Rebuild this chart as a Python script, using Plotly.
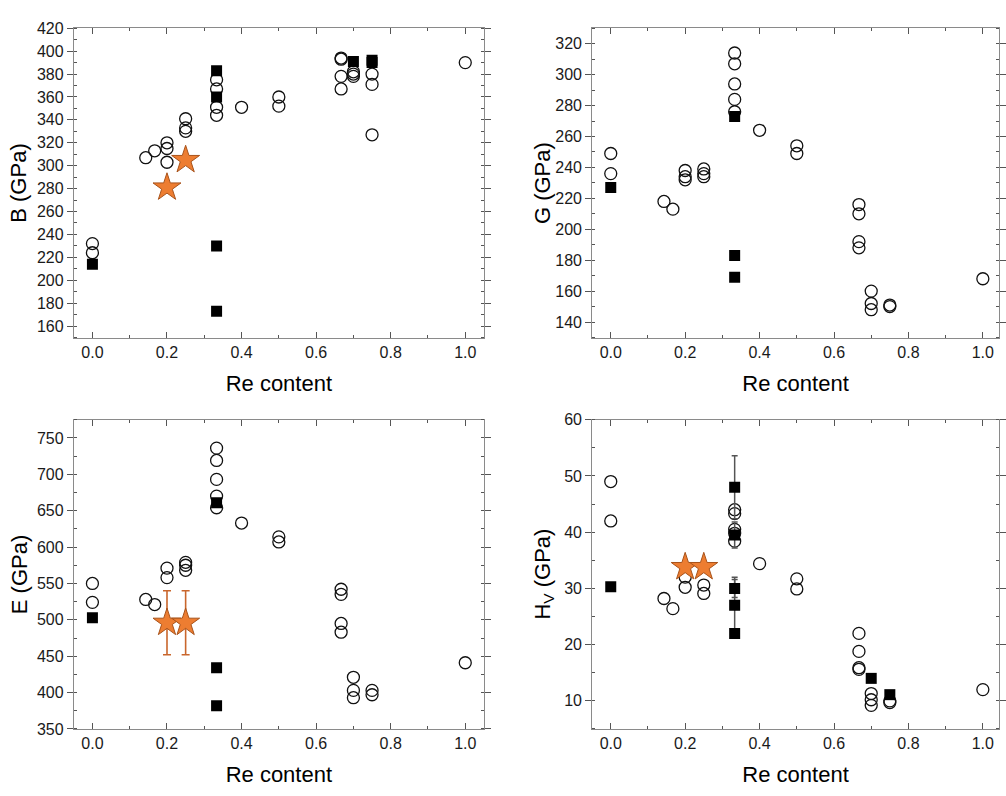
import plotly.graph_objects as go

# ---------------- Bulk modulus B (GPa) ----------------
b_open_re = [0, 0, 0.143, 0.167, 0.2, 0.2, 0.2, 0.25, 0.25, 0.25,
             0.333, 0.333, 0.333, 0.333, 0.4, 0.5, 0.5,
             0.667, 0.667, 0.667, 0.667, 0.7, 0.7, 0.7, 0.75, 0.75, 0.75, 1.0]
b_open_val = [232, 224, 307, 313, 320, 315, 303, 341, 333, 330,
              375, 367, 351, 344, 351, 360, 352,
              394, 393, 378, 367, 382, 380, 378, 380, 371, 327, 390]
b_sq_re = [0, 0.333, 0.333, 0.333, 0.333, 0.7, 0.75, 0.75]
b_sq_val = [214, 383, 360, 230, 173, 391, 392, 390]
b_star_re = [0.2, 0.25]
b_star_val = [281, 305]

# ---------------- Shear modulus G (GPa) ----------------
g_open_re = [0, 0, 0.143, 0.167, 0.2, 0.2, 0.2, 0.25, 0.25, 0.25,
             0.333, 0.333, 0.333, 0.333, 0.333, 0.4, 0.5, 0.5,
             0.667, 0.667, 0.667, 0.667, 0.7, 0.7, 0.7, 0.75, 0.75, 1.0]
g_open_val = [249, 236, 218, 213, 238, 234, 232, 239, 236, 234,
              314, 307, 294, 284, 276, 264, 254, 249,
              216, 210, 192, 188, 160, 152, 148, 151, 150, 168]
g_sq_re = [0, 0.333, 0.333, 0.333]
g_sq_val = [227, 273, 183, 169]

# ---------------- Young's modulus E (GPa) ----------------
e_open_re = [0, 0, 0.143, 0.167, 0.2, 0.2, 0.25, 0.25, 0.25,
             0.333, 0.333, 0.333, 0.333, 0.333, 0.4, 0.5, 0.5,
             0.667, 0.667, 0.667, 0.667, 0.7, 0.7, 0.7, 0.75, 0.75, 1.0]
e_open_val = [550, 524, 528, 521, 571, 558, 579, 575, 568,
              736, 719, 693, 670, 654, 633, 614, 607,
              542, 535, 495, 483, 421, 403, 393, 403, 397, 441]
e_sq_re = [0, 0.333, 0.333, 0.333]
e_sq_val = [503, 661, 434, 382]
e_star_re = [0.2, 0.25]
e_star_val = [496, 496]
e_star_err = [44, 44]

# ---------------- Vickers hardness Hv (GPa) ----------------
h_open_re = [0, 0, 0.143, 0.167, 0.2, 0.2, 0.25, 0.25,
             0.333, 0.333, 0.333, 0.333, 0.333, 0.4, 0.5, 0.5,
             0.667, 0.667, 0.667, 0.667, 0.7, 0.7, 0.7, 0.75, 0.75, 1.0]
h_open_val = [49.0, 42.0, 28.2, 26.4, 32.0, 30.2, 30.6, 29.1,
              44.0, 43.3, 40.5, 39.8, 38.4, 34.4, 31.7, 29.9,
              22.0, 18.8, 15.9, 15.6, 11.3, 10.2, 9.2, 10.0, 9.7, 12.0]
h_sq_re = [0, 0.333, 0.333, 0.333, 0.333, 0.333, 0.7, 0.75]
h_sq_val = [30.3, 48.0, 39.5, 30.0, 27.0, 22.0, 14.0, 11.1]
h_sq_err = [0, 5.6, 2.3, 1.6, 5.0, 0, 0, 0]
h_star_re = [0.2, 0.25]
h_star_val = [33.8, 33.8]

x_ticks = [0.0, 0.2, 0.4, 0.6, 0.8, 1.0]
x_tick_text = ["0.0", "0.2", "0.4", "0.6", "0.8", "1.0"]
y_titles = ["B (GPa)", "G (GPa)", "E (GPa)", "H<sub>V</sub> (GPa)"]

FONT = "Arial, Liberation Sans, sans-serif"
FRAME = "#8a8a8a"
TICK = "#555555"
STAR_FILL = "#ED7D31"
STAR_LINE = "#A8531B"
STAR_ERR = "#C9662C"

W, H = 1006, 796
left_dom = [74.3 / W, 487.3 / W]
right_dom = [596.3 / W, 1.0]
top_dom = [1 - 336.7 / H, 1 - 20.7 / H]
bot_dom = [1 - 736.7 / H, 1 - 420.7 / H]

fig = go.Figure()


def add_panel(n, open_re, open_val, sq_re, sq_val, sq_err=None,
              star_re=None, star_val=None, star_err=None):
    xa = "x" if n == 1 else f"x{n}"
    ya = "y" if n == 1 else f"y{n}"
    fig.add_trace(go.Scatter(
        x=open_re, y=open_val, mode="markers", xaxis=xa, yaxis=ya,
        marker=dict(symbol="circle-open", size=12, color="#111111",
                    line=dict(width=1.3)),
        showlegend=False, hoverinfo="x+y"))
    err = None
    if sq_err is not None:
        err = dict(type="data", array=sq_err, visible=True,
                   color=TICK, thickness=1.5, width=3)
    fig.add_trace(go.Scatter(
        x=sq_re, y=sq_val, mode="markers", xaxis=xa, yaxis=ya,
        error_y=err,
        marker=dict(symbol="square", size=11, color="#000000",
                    line=dict(width=0)),
        showlegend=False, hoverinfo="x+y"))
    if star_re is not None:
        serr = None
        if star_err is not None:
            serr = dict(type="data", array=star_err, visible=True,
                        color=STAR_ERR, thickness=1.6, width=4)
        fig.add_trace(go.Scatter(
            x=star_re, y=star_val, mode="markers", xaxis=xa, yaxis=ya,
            error_y=serr,
            marker=dict(symbol="star", size=21, color=STAR_FILL,
                        line=dict(width=1, color=STAR_LINE)),
            showlegend=False, hoverinfo="x+y"))


add_panel(1, b_open_re, b_open_val, b_sq_re, b_sq_val,
          star_re=b_star_re, star_val=b_star_val)
add_panel(2, g_open_re, g_open_val, g_sq_re, g_sq_val)
add_panel(3, e_open_re, e_open_val, e_sq_re, e_sq_val,
          star_re=e_star_re, star_val=e_star_val, star_err=e_star_err)
add_panel(4, h_open_re, h_open_val, h_sq_re, h_sq_val, sq_err=h_sq_err,
          star_re=h_star_re, star_val=h_star_val)


def x_axis(dom, anchor, rng):
    return dict(
        domain=dom, anchor=anchor, range=rng,
        tickmode="array", tickvals=x_ticks, ticktext=x_tick_text,
        ticks="inside", ticklen=6, tickwidth=1, tickcolor=TICK,
        minor=dict(dtick=0.1, tick0=0, ticks="inside", ticklen=3,
                   tickcolor=TICK, tickwidth=1),
        showline=True, linecolor=FRAME, linewidth=1, mirror="ticks",
        showgrid=False, zeroline=False,
        tickfont=dict(family=FONT, size=16, color="#1a1a1a"),
        title=dict(text="Re content", standoff=15,
                   font=dict(family=FONT, size=22, color="#000000")),
    )


def y_axis(dom, anchor, rng, dtick, minor):
    return dict(
        domain=dom, anchor=anchor, range=rng, dtick=dtick, tick0=0,
        ticks="outside", ticklen=6, tickwidth=1, tickcolor=TICK,
        minor=dict(dtick=minor, tick0=0, ticks="inside", ticklen=3,
                   tickcolor=TICK, tickwidth=1),
        showline=True, linecolor=FRAME, linewidth=1, mirror="ticks",
        showgrid=False, zeroline=False,
        tickfont=dict(family=FONT, size=16, color="#1a1a1a"),
    )


fig.update_layout(
    width=W, height=H,
    margin=dict(l=0, r=0, t=0, b=0),
    paper_bgcolor="white", plot_bgcolor="white",
    xaxis=x_axis(left_dom, "y", [-0.05, 1.05]),
    yaxis=y_axis(top_dom, "x", [150, 420], 20, 10),
    xaxis2=x_axis(right_dom, "y2", [-0.05, 1.0434]),
    yaxis2=y_axis(top_dom, "x2", [130, 330], 20, 10),
    xaxis3=x_axis(left_dom, "y3", [-0.05, 1.05]),
    yaxis3=y_axis(bot_dom, "x3", [350, 775], 50, 25),
    xaxis4=x_axis(right_dom, "y4", [-0.05, 1.0434]),
    yaxis4=y_axis(bot_dom, "x4", [5, 60], 10, 5),
)

# vertical axis titles, placed a fixed distance left of each frame
title_pos = [(19, top_dom), (547, top_dom), (19, bot_dom), (548, bot_dom)]
for text, (px, dom) in zip(y_titles, title_pos):
    fig.add_annotation(
        text=text, textangle=-90, showarrow=False,
        xref="paper", yref="paper", x=px / W, y=(dom[0] + dom[1]) / 2,
        xanchor="center", yanchor="middle",
        font=dict(family=FONT, size=22, color="#000000"))

fig.write_html("out.html")
